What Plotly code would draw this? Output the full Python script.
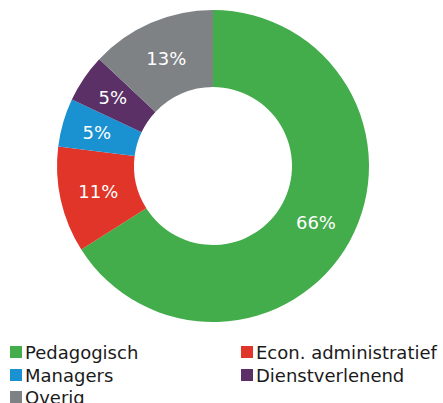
import plotly.graph_objects as go

categories = ["Pedagogisch", "Econ. administratief", "Managers", "Dienstverlenend", "Overig"]
values = [66, 11, 5, 5, 13]
colors = ["#43AC4B", "#E03528", "#1A91D1", "#5B3066", "#7F8285"]

W, H = 443, 403
CX, CY, R, R_IN = 213, 166, 156, 79
small = [v < 10 for v in values]

def dom(r):
    return dict(x=[(CX - r) / W, (CX + r) / W], y=[(H - CY - r) / H, (H - CY + r) / H])

fig = go.Figure()
fig.add_trace(go.Pie(
    labels=categories, values=values, hole=R_IN / R, sort=False, direction="clockwise",
    rotation=0, marker=dict(colors=colors, line=dict(width=0)),
    texttemplate=["" if s else "%{percent:.0%}" for s in small],
    textposition="inside", insidetextorientation="horizontal",
    textfont=dict(family="DejaVu Sans", size=18, color="white"),
    domain=dom(R), showlegend=False, hoverinfo="label+percent",
))
# transparent helper ring so that labels of thin slices sit closer to the middle of the ring
R2 = 140
fig.add_trace(go.Pie(
    labels=categories, values=values, hole=R_IN / R2, sort=False, direction="clockwise",
    rotation=0, marker=dict(colors=["rgba(0,0,0,0)"] * len(values), line=dict(width=0)),
    texttemplate=["%{percent:.0%}" if s else "" for s in small],
    textposition="inside", insidetextorientation="horizontal",
    textfont=dict(family="DejaVu Sans", size=18, color="white"),
    domain=dom(R2), showlegend=False, hoverinfo="skip",
))

# manual legend (2 columns)
col_x = [10, 241]
row_y = [352, 375, 397]
for i, (cat, col) in enumerate(zip(categories, colors)):
    cx = col_x[i % 2]
    cy = row_y[i // 2]
    fig.add_shape(type="rect", xref="paper", yref="paper",
                  x0=cx / W, x1=(cx + 12) / W, y0=1 - (cy + 6) / H, y1=1 - (cy - 6) / H,
                  fillcolor=col, line=dict(width=0))
    fig.add_annotation(xref="paper", yref="paper", x=(cx + 13) / W, y=1 - cy / H,
                       text=cat, showarrow=False, xanchor="left", yanchor="middle",
                       font=dict(family="DejaVu Sans", size=18, color="#1a1a1a"))

fig.update_layout(width=W, height=H, margin=dict(l=0, r=0, t=0, b=0),
                  paper_bgcolor="white", plot_bgcolor="white")
fig.write_html("out.html", config={"displayModeBar": False},
               post_script="document.body.style.margin='0';document.body.style.overflow='hidden';")
